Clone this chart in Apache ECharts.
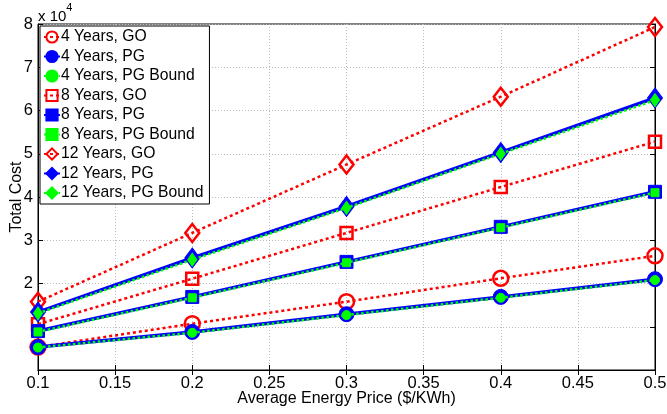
<!DOCTYPE html>
<html>
<head>
<meta charset="utf-8">
<script src="https://cdn.jsdelivr.net/npm/echarts@6/dist/echarts.min.js"></script>
<style>
    html,body{margin:0;padding:0;background:#fff;}
    #chart{width:667px;height:414px;}
</style>
</head>
<body>
<div id="chart"></div>
<script>
    // x values: average energy price ($/KWh)
    const prices = [0.1, 0.2, 0.3, 0.4, 0.5];
    // total cost (x 10^4)
    const go4  = [0.53, 1.07, 1.58, 2.12, 2.64];
    const pg4  = [0.53, 0.88, 1.29, 1.69, 2.10];
    const pgb4 = [0.52, 0.86, 1.27, 1.67, 2.08];
    const go8  = [1.06, 2.11, 3.17, 4.23, 5.28];
    const pg8  = [0.90, 1.69, 2.50, 3.31, 4.12];
    const pgb8 = [0.88, 1.67, 2.48, 3.29, 4.10];
    const go12  = [1.58, 3.17, 4.75, 6.32, 7.93];
    const pg12  = [1.34, 2.59, 3.78, 5.03, 6.29];
    const pgb12 = [1.31, 2.55, 3.75, 5.00, 6.24];
    const yTicks = [2, 3, 4, 5, 6, 7, 8];

    const font = 'Liberation Sans, Arial, sans-serif';
    const pts = (arr) => prices.map((p, i) => [p, arr[i] * 1e4]);

    let goLine = (name, data, symbol, size) => ({
        name: name, type: 'line', data: pts(data),
        symbol: symbol, symbolSize: size,
        lineStyle: {color: '#ff0000', width: 2.5, type: [3, 3]},
        itemStyle: {color: 'rgba(255,255,255,0)', borderColor: '#ff0000', borderWidth: 2.5},
        z: 2
    });
    let pgLine = (name, data, symbol, size) => ({
        name: name, type: 'line', data: pts(data),
        symbol: symbol, symbolSize: size,
        lineStyle: {color: '#0000ff', width: 3.5, type: 'solid'},
        itemStyle: {color: '#0000ff', borderColor: '#0000ff', borderWidth: 1},
        z: 3
    });
    let pgbLine = (name, data, symbol, size) => ({
        name: name, type: 'line', data: pts(data),
        symbol: symbol, symbolSize: size,
        lineStyle: {color: '#00ff00', width: 2.5, type: [2.5, 2.5]},
        itemStyle: {color: '#00ff00', borderColor: '#00ff00', borderWidth: 1},
        z: 4
    });

    const series = [
        goLine('4 Years, GO', go4, 'circle', 15),
        pgLine('4 Years, PG', pg4, 'circle', 15),
        pgbLine('4 Years, PG Bound', pgb4, 'circle', 9),
        goLine('8 Years, GO', go8, 'rect', 12),
        pgLine('8 Years, PG', pg8, 'rect', 13),
        pgbLine('8 Years, PG Bound', pgb8, 'rect', 8),
        goLine('12 Years, GO', go12, 'diamond', [14, 18]),
        pgLine('12 Years, PG', pg12, 'diamond', [15, 20]),
        pgbLine('12 Years, PG Bound', pgb12, 'diamond', [9, 13])
    ];

    const chart = echarts.init(document.getElementById('chart'));
    chart.setOption({
        backgroundColor: '#fff',
        animation: false,
        textStyle: {fontFamily: font},
        grid: {left: 38, right: 12, top: 24, bottom: 44, containLabel: false,
            outerBoundsMode: 'none',
            show: true, borderColor: '#000', borderWidth: 1},
        legend: {
            orient: 'vertical', left: 40, top: 26,
            itemWidth: 16, itemHeight: 14, itemGap: 3.5,
            padding: [3, 6, 3, 3],
            backgroundColor: '#fff', borderColor: '#000', borderWidth: 1,
            textStyle: {fontSize: 15.7, color: '#000', fontFamily: font, padding: [0, 0, 0, -4]},
            data: series.map(s => s.name)
        },
        xAxis: [{
            type: 'value', min: 0.1, max: 0.5, interval: 0.05,
            name: 'Average Energy Price ($/KWh)', nameLocation: 'middle', nameGap: 21,
            nameMoveOverlap: false,
            nameTextStyle: {fontSize: 16, color: '#000', fontFamily: font, verticalAlign: 'top'},
            axisLine: {show: true, lineStyle: {color: '#000', width: 1}},
            axisTick: {show: true, inside: true, length: 5, lineStyle: {color: '#000'}},
            axisLabel: {fontSize: 16.5, color: '#000', margin: 5, fontFamily: font,
                formatter: v => String(+v.toFixed(2))},
            splitLine: {show: true, lineStyle: {color: '#bbb', type: [1, 2]}}
        }, {
            type: 'value', position: 'top', min: 0.1, max: 0.5, interval: 0.05,
            axisLine: {show: true, lineStyle: {color: '#000'}},
            axisTick: {show: true, inside: true, length: 5, lineStyle: {color: '#000'}},
            axisLabel: {show: false}, splitLine: {show: false}
        }],
        yAxis: [{
            type: 'value', min: 0, max: 8e4, interval: 1e4,
            name: 'Total Cost', nameLocation: 'middle', nameGap: 13, nameRotate: 90,
            nameMoveOverlap: false,
            nameTextStyle: {fontSize: 16, color: '#000', fontFamily: font},
            axisLine: {show: true, lineStyle: {color: '#000', width: 1}},
            axisTick: {show: true, inside: true, length: 5, lineStyle: {color: '#000'}},
            axisLabel: {fontSize: 16.5, color: '#000', margin: 5, fontFamily: font,
                formatter: v => yTicks.indexOf(v / 1e4) >= 0 ? String(v / 1e4) : ''},
            splitLine: {show: true, lineStyle: {color: '#bbb', type: [1, 2]}}
        }, {
            type: 'value', position: 'right', min: 0, max: 8e4, interval: 1e4,
            axisLine: {show: true, lineStyle: {color: '#000'}},
            axisTick: {show: true, inside: true, length: 5, lineStyle: {color: '#000'}},
            axisLabel: {show: false}, splitLine: {show: false}
        }],
        graphic: [{
            type: 'text', left: 38, top: 2,
            style: {
                text: '{a|x 10}{b|4}',
                rich: {
                    a: {fontSize: 15, fontFamily: font, fill: '#000', padding: [7, 0, 0, 0]},
                    b: {fontSize: 11, fontFamily: font, fill: '#000', verticalAlign: 'top'}
                }
            }
        }],
        series: series
    });
</script>
</body>
</html>
